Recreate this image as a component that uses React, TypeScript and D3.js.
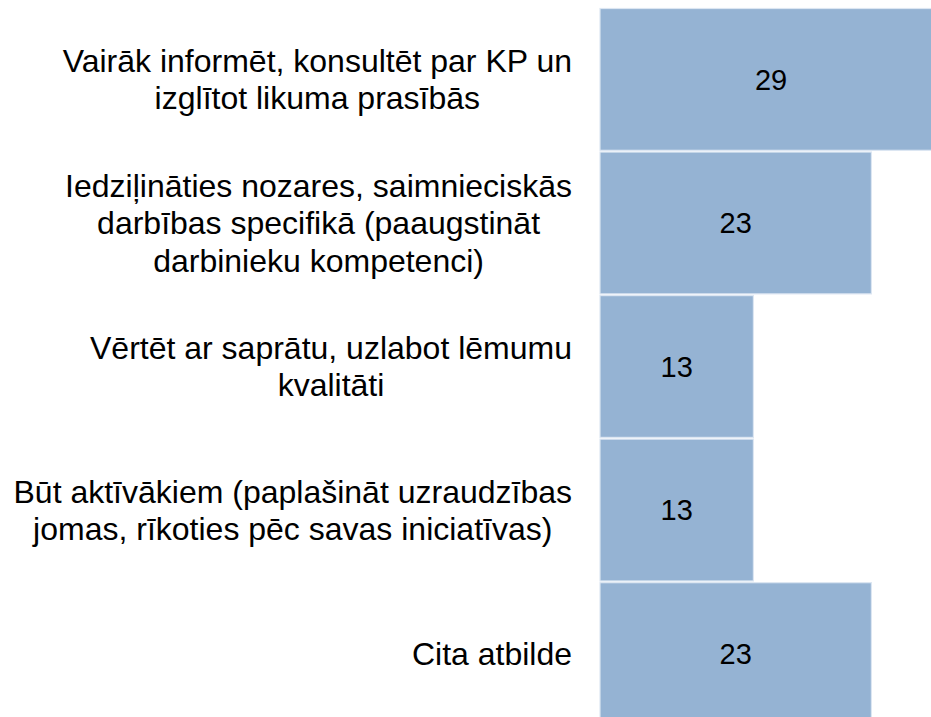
import React, { useEffect, useRef } from "react";
import * as d3 from "d3";

const categories: string[] = [
  "Vairāk informēt, konsultēt par KP un\nizglītot likuma prasībās",
  "Iedziļināties nozares, saimnieciskās\ndarbības specifikā (paaugstināt\ndarbinieku kompetenci)",
  "Vērtēt ar saprātu, uzlabot lēmumu\nkvalitāti",
  "Būt aktīvākiem (paplašināt uzraudzības\njomas, rīkoties pēc savas iniciatīvas)",
  "Cita atbilde",
];
const values: number[] = [29, 23, 13, 13, 23];

const W = 931;
const H = 717;
const FONT = "'Liberation Sans', Arial, sans-serif";

export default function App() {
  const ref = useRef<SVGSVGElement | null>(null);

  useEffect(() => {
    const svg = d3.select(ref.current);
    svg.selectAll("*").remove();

    const x = d3.scaleLinear().domain([0, 30]).range([600, 954]);
    const y = d3
      .scaleBand<string>()
      .domain(categories)
      .range([8.5, 724.5])
      .paddingInner(0.012)
      .paddingOuter(0);

    const g = svg.append("g");

    g.selectAll("rect.bar")
      .data(values)
      .join("rect")
      .attr("class", "bar")
      .attr("x", x(0))
      .attr("y", (_, i) => y(categories[i])!)
      .attr("width", (d) => x(d) - x(0))
      .attr("height", y.bandwidth())
      .attr("fill", "#95b3d3")
      .attr("stroke", "#dce6f2")
      .attr("stroke-width", 1.2);

    g.selectAll("text.val")
      .data(values)
      .join("text")
      .attr("class", "val")
      .attr("x", (d) => (x(0) + x(d)) / 2)
      .attr("y", (_, i) => y(categories[i])! + y.bandwidth() / 2)
      .attr("dy", "0.35em")
      .attr("text-anchor", "middle")
      .attr("font-family", FONT)
      .attr("font-size", 29)
      .attr("fill", "#000")
      .text((d) => String(d));

    const fs = 32;
    const lh = 37.4;
    const rightEdge = 572;
    categories.forEach((cat) => {
      const lines = cat.split("\n");
      const cy = y(cat)! + y.bandwidth() / 2;
      const tg = g.append("g");
      const texts = lines.map((ln, j) =>
        tg
          .append("text")
          .attr("font-family", FONT)
          .attr("font-size", fs)
          .attr("fill", "#000")
          .attr("text-anchor", "middle")
          .attr("y", cy + (j - (lines.length - 1) / 2) * lh)
          .attr("dy", "0.35em")
          .text(ln)
      );
      let maxW = 0;
      texts.forEach((t) => {
        const w = (t.node() as SVGTextElement).getComputedTextLength();
        if (w > maxW) maxW = w;
      });
      const cx = rightEdge - maxW / 2;
      texts.forEach((t) => t.attr("x", cx));
    });
  }, []);

  return (
    <svg
      ref={ref}
      width={W}
      height={H}
      style={{ position: "absolute", left: 0, top: 0, background: "#fff" }}
    />
  );
}
